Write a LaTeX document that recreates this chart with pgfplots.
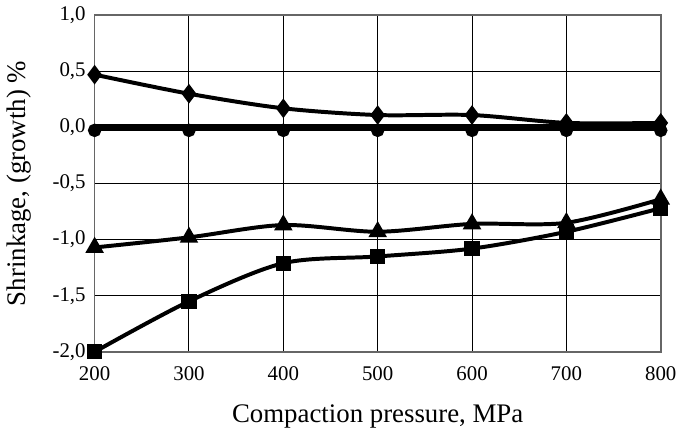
\documentclass[border=0pt]{standalone}
\usepackage{pgfplots}
\pgfplotsset{compat=1.18}
\usepackage{fontspec}
\setmainfont{Liberation Serif}

\begin{document}
\begin{tikzpicture}
\begin{axis}[
    width=285pt, height=169.5pt,
    scale only axis,
    xmin=200, xmax=800,
    ymin=-2, ymax=1,
    xtick={200,300,...,800},
    ytick={-2,-1.5,...,1},
    grid=major,
    major grid style={black, line width=0.5pt},
    axis line style={gray!80!black, line width=0.8pt},
    tick style={draw=none},
    yticklabel style={xshift=-1pt, /pgf/number format/.cd, fixed, fixed zerofill, precision=1, use comma},
    /pgf/number format/assume math mode=true,
    tick label style={font=\fontsize{10.5}{12}\selectfont},
    xticklabel style={yshift=-4pt},
    xlabel={Compaction pressure, MPa},
    ylabel={Shrinkage, (growth) \%},
    label style={font=\fontsize{13.5}{15}\selectfont},
    xlabel style={yshift=-5pt},
    ylabel style={yshift=4pt},
    clip=false,
]
\addplot[black, line width=2pt, smooth, mark=diamond*, mark size=3.3pt] coordinates {
  (200,0.47) (300,0.30) (400,0.17) (500,0.11) (600,0.11) (700,0.04) (800,0.04)};
\addplot[black, line width=3.2pt, mark=*, mark size=1.7pt, mark options={yshift=-1.5pt}] coordinates {
  (200,0) (300,0) (400,0) (500,0) (600,0) (700,0) (800,0)};
\addplot[black, line width=2pt, smooth, mark=triangle*, mark size=3.4pt] coordinates {
  (200,-1.07) (300,-0.98) (400,-0.87) (500,-0.93) (600,-0.86) (700,-0.85) (800,-0.64)};
\addplot[black, line width=2pt, smooth, mark=square*, mark size=2.8pt] coordinates {
  (200,-2.0) (300,-1.55) (400,-1.21) (500,-1.15) (600,-1.08) (700,-0.93) (800,-0.72)};
\end{axis}
\end{tikzpicture}
\end{document}
